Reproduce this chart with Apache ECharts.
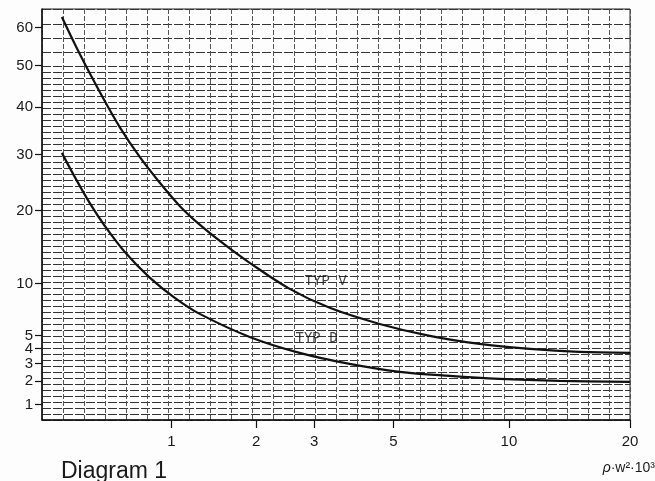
<!DOCTYPE html>
<html><head><meta charset="utf-8">
<script src="https://cdn.jsdelivr.net/npm/echarts@6/dist/echarts.min.js"></script>
<style>html,body{margin:0;padding:0;background:#fff}#c{width:655px;height:481px}</style>
</head><body><div id="c"></div>
<script>
// Tick labels
const xTickLabels = [1, 2, 3, 5, 10, 20];
const yTickLabels = [1, 2, 3, 4, 5, 10, 20, 30, 40, 50, 60];
// Axis value range
const xRange = [0.14, 20];
const yRange = [0.52, 65.3];
// Curve TYP V
const typV_x = [0.236, 0.332, 0.451, 0.583, 0.731, 0.896, 1.079, 1.284, 1.574, 1.905, 2.54, 3.33, 4.59, 6.25, 8.42, 11.3, 15.0, 20];
const typV_y = [63.0, 52.9, 43.5, 35.6, 29.5, 24.7, 20.75, 17.8, 14.9, 12.5, 9.42, 7.45, 5.96, 4.96, 4.34, 3.98, 3.77, 3.70];
// Curve TYP D
const typD_x = [0.236, 0.304, 0.39, 0.483, 0.619, 0.811, 1.032, 1.284, 1.905, 2.72, 3.79, 5.2, 7.05, 9.47, 13.4, 20];
const typD_y = [30.3, 25.75, 21.2, 17.6, 13.9, 10.7, 8.46, 6.87, 4.88, 3.70, 2.98, 2.51, 2.28, 2.12, 2.02, 1.97];
// Curve labels
const noteText = ['TYP V', 'TYP D'];
const noteX = [3.24, 3.05];
const noteY = [10.3, 4.8];

// axis scales of the diagram paper
const fx = v => Math.log(v + 0.7);
const fy = v => Math.sqrt(v);

const pts = (xs, ys) => xs.map((x, i) => [fx(x), fy(ys[i])]);
const font = '"Liberation Sans", Arial, sans-serif';

// paper ruling (decoration only): dense rows below, sparse rows at the top
const paperRows = [];
for (let i = 0; i <= 59; i++) paperRows.push(i);
[61.3, 63.6, 66, 68.4].forEach(v => paperRows.push(v));

const chart = echarts.init(document.getElementById('c'), null, {renderer: 'canvas'});
chart.setOption({
  animation: false,
  backgroundColor: '#fdfdfd',
  title: {text: 'Diagram 1', left: 56, top: 455,
    textStyle: {fontFamily: font, fontSize: 23, fontWeight: 'normal', color: '#1a1a1a'}},
  graphic: [{type: 'text', right: 0, top: 461,
    style: {text: '{i|ρ}{n|·w²·10³}', fill: '#1a1a1a',
      rich: {i: {fontFamily: font, fontStyle: 'italic', fontSize: 14, fill: '#1a1a1a'},
             n: {fontFamily: font, fontSize: 14, fill: '#1a1a1a'}}}}],
  grid: {left: 42, right: 25, top: 9, bottom: 61, show: true, borderColor: '#222', borderWidth: 1},
  xAxis: [{
    type: 'value', min: fx(xRange[0]), max: fx(xRange[1]),
    axisLine: {show: true, onZero: false, lineStyle: {color: '#111', width: 1.5}},
    axisTick: {show: true, customValues: xTickLabels.map(fx), length: 8, lineStyle: {color: '#111', width: 1.2}},
    axisLabel: {customValues: xTickLabels.map(fx), formatter: v => String(Math.round(Math.exp(v) - 0.7)),
      fontFamily: font, fontSize: 15, color: '#1a1a1a', margin: 14},
    splitLine: {show: false}
  }, {
    type: 'value', min: 0, max: 28, interval: 1, position: 'top',
    axisLine: {show: false}, axisTick: {show: false}, axisLabel: {show: false},
    splitLine: {show: true, lineStyle: {color: '#555', width: 1, type: [5, 2]}}
  }],
  yAxis: [{
    type: 'value', min: fy(yRange[0]), max: fy(yRange[1]),
    axisLine: {show: true, onZero: false, lineStyle: {color: '#111', width: 1.5}},
    axisTick: {show: true, customValues: yTickLabels.map(fy), length: 7, lineStyle: {color: '#111', width: 1.2}},
    axisLabel: {customValues: yTickLabels.map(fy), formatter: v => String(Math.round(v * v)),
      fontFamily: font, fontSize: 15, color: '#1a1a1a', margin: 9},
    splitLine: {show: false}
  }, {
    type: 'value', min: 0, max: 68.5, position: 'right',
    axisLine: {show: false}, axisTick: {show: false, customValues: paperRows}, axisLabel: {show: false},
    splitLine: {show: true, lineStyle: {color: '#333', width: 1, type: [9, 2]}}
  }],
  series: [{
    type: 'line', data: pts(typV_x, typV_y), smooth: 0.35, showSymbol: false,
    lineStyle: {color: '#111', width: 2.2}, z: 5
  }, {
    type: 'line', data: pts(typD_x, typD_y), smooth: 0.35, showSymbol: false,
    lineStyle: {color: '#111', width: 2.2}, z: 5
  }, {
    type: 'scatter', symbolSize: 0, z: 6,
    data: noteText.map((t, i) => ({name: t, value: [fx(noteX[i]), fy(noteY[i])]})),
    label: {show: true, position: 'inside', formatter: p => p.name,
      fontFamily: '"Liberation Mono", "DejaVu Sans Mono", monospace', fontSize: 14, color: '#111'}
  }]
});
</script></body></html>
